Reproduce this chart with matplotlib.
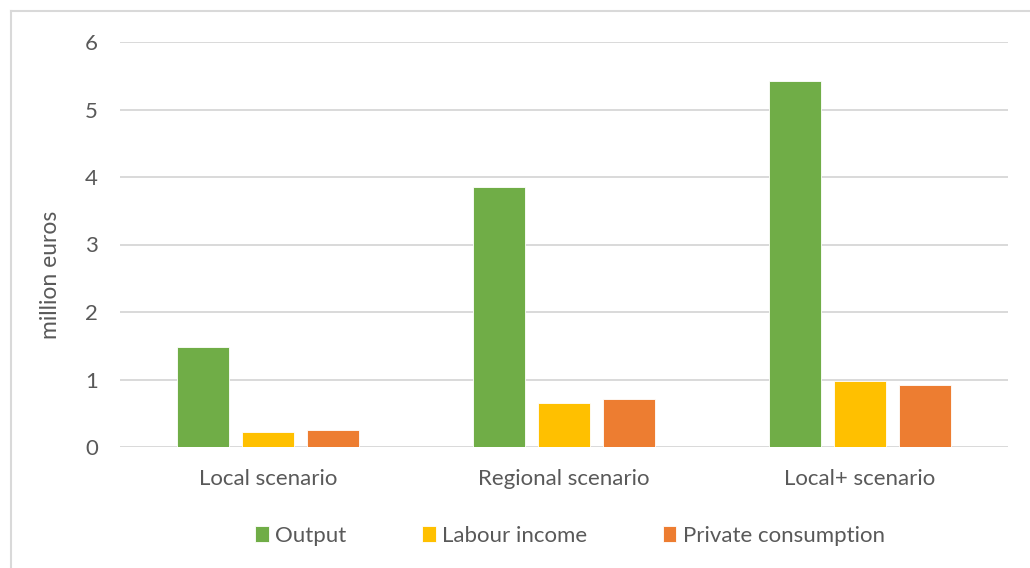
import numpy as np
import matplotlib.pyplot as plt
from matplotlib.lines import Line2D

plt.rcParams['font.family'] = ['Lato', 'DejaVu Sans']

scenarios = ['Local scenario', 'Regional scenario', 'Local+ scenario']
series = ['Output', 'Labour income', 'Private consumption']
output = [1.475, 3.85, 5.415]
labour_income = [0.22, 0.645, 0.975]
private_consumption = [0.245, 0.705, 0.915]
colors = ['#70AD47', '#FFC000', '#ED7D31']

text_col = '#595959'
grid_col = '#D9D9D9'

fig = plt.figure(figsize=(10.30, 5.68), dpi=100)
ax = fig.add_axes([120/1030, 1 - 447/568, 888/1030, 405/568])

x = np.arange(len(scenarios))
width = 0.176
step = 0.221
for i, (vals, name) in enumerate(zip([output, labour_income, private_consumption], series)):
    ax.bar(x + (i - 1) * step, vals, width, color=colors[i], label=name,
           edgecolor='white', linewidth=0.6, zorder=3)

ax.set_xlim(-0.5, 2.5)
ax.set_ylim(0, 6)
ax.set_yticks(range(7))
ax.yaxis.grid(True, color=grid_col, linewidth=1.4, zorder=0)
ax.set_xticks(x)
ax.set_xticklabels(scenarios)
ax.tick_params(axis='both', length=0, colors=text_col, labelsize=16)
ax.tick_params(axis='x', pad=16)
ax.tick_params(axis='y', pad=16)
for s in ax.spines.values():
    s.set_visible(False)
ax.set_ylabel('million euros', color=text_col, fontsize=16.5)
ax.yaxis.set_label_coords(-0.066, 0.425)

ax.legend(loc='upper center', bbox_to_anchor=(0.507, -0.145), ncol=3, frameon=False,
          fontsize=16, labelcolor=text_col, handlelength=0.6, handleheight=0.7,
          handletextpad=0.3, columnspacing=3.4)

# outer frame, only top and left edges fall inside the image
fig.add_artist(Line2D([11/1030, 1], [1 - 11/568, 1 - 11/568], color=grid_col, linewidth=1.5))
fig.add_artist(Line2D([11/1030, 11/1030], [0, 1 - 11/568], color=grid_col, linewidth=1.5))

fig.savefig('out.png', dpi=100)
